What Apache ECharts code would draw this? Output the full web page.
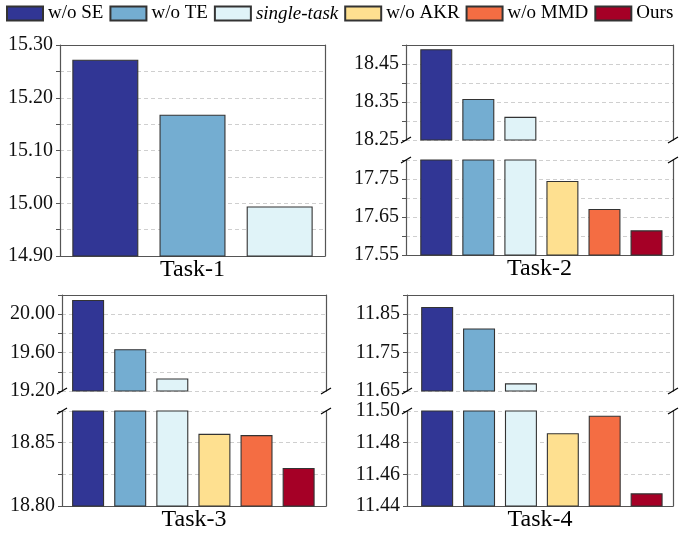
<!DOCTYPE html>
<html><head><meta charset="utf-8">
<script src="https://cdn.jsdelivr.net/npm/echarts@6/dist/echarts.min.js"></script>
<style>html,body{margin:0;padding:0;background:#fff}#c{width:680px;height:537px}</style>
</head><body><div id="c"></div>
<script>
// ---- data ----
const methods = ['w/o SE', 'w/o TE', 'single-task', 'w/o AKR', 'w/o MMD', 'Ours'];
const colors = ['#313695', '#74add1', '#e0f3f8', '#fee090', '#f46d43', '#a50026'];
const task1 = [15.272, 15.168, 14.994];
const task2 = [18.489, 18.358, 18.311, 17.745, 17.671, 17.615];
const task3 = [20.148, 19.635, 19.331, 18.857, 18.856, 18.830];
const task4 = [11.869, 11.813, 11.670, 11.486, 11.497, 11.448];
const t1Ticks = ['14.90', '15.00', '15.10', '15.20', '15.30'];
const t2Upper = ['18.25', '18.35', '18.45'];
const t2Lower = ['17.55', '17.65', '17.75'];
const t3Upper = ['19.20', '19.60', '20.00'];
const t3Lower = ['18.80', '18.85'];
const t4Upper = ['11.65', '11.75', '11.85'];
const t4Lower = ['11.44', '11.46', '11.48', '11.50'];

const FONT = 'Liberation Serif';
const SPINE = '#555';

const panels = [
  { name: 'Task-1', values: task1, left: 60, width: 265, xMin: -0.52, xMax: 2.52, barWidth: 66,
    parts: [{ top: 45, height: 211, min: 14.90, max: 15.30, interval: 0.05, labels: t1Ticks, role: 'full' }] },
  { name: 'Task-2', values: task2, left: 406, width: 267, xMin: -0.72, xMax: 5.63, barWidth: 32,
    parts: [{ top: 45, height: 95, min: 18.25, max: 18.50, interval: 0.05, labels: t2Upper, role: 'upper' },
            { top: 160, height: 95, min: 17.55, max: 17.80, interval: 0.05, labels: t2Lower, role: 'lower' }] },
  { name: 'Task-3', values: task3, left: 62, width: 264, xMin: -0.62, xMax: 5.65, barWidth: 32,
    parts: [{ top: 295, height: 96, min: 19.20, max: 20.20, interval: 0.2, labels: t3Upper, role: 'upper' },
            { top: 411, height: 95, min: 18.80, max: 18.875, interval: 0.025, labels: t3Lower, role: 'lower' }] },
  { name: 'Task-4', values: task4, left: 407, width: 266, xMin: -0.72, xMax: 5.63, barWidth: 32,
    parts: [{ top: 295, height: 96, min: 11.65, max: 11.90, interval: 0.05, labels: t4Upper, role: 'upper' },
            { top: 411, height: 95, min: 11.44, max: 11.50, interval: 0.02, labels: t4Lower, role: 'lower' }] }
];

const grid = [], xAxis = [], yAxis = [], series = [];
const breaks = [];
panels.forEach(p => {
  p.parts.forEach(part => {
    const g = grid.length;
    grid.push({ left: p.left, top: part.top, width: p.width, height: part.height, outerBoundsMode: 'none', containLabel: false });
    const xb = xAxis.length;
    xAxis.push({
      type: 'value', gridIndex: g, position: 'bottom', min: p.xMin, max: p.xMax,
      axisLine: { show: part.role !== 'upper', onZero: false, lineStyle: { color: SPINE, width: 1.2 } },
      axisTick: { show: false }, axisLabel: { show: false }, splitLine: { show: false },
      name: part.role !== 'upper' ? p.name : '', nameLocation: 'middle', nameGap: 2,
      nameTextStyle: { fontFamily: FONT, fontSize: 24, color: '#000', verticalAlign: 'top' }
    });
    xAxis.push({
      type: 'value', gridIndex: g, position: 'top', min: p.xMin, max: p.xMax,
      axisLine: { show: part.role !== 'lower', onZero: false, lineStyle: { color: SPINE, width: 1.2 } },
      axisTick: { show: false }, axisLabel: { show: false }, splitLine: { show: false }
    });
    const yl = yAxis.length;
    const labs = part.labels;
    yAxis.push({
      type: 'value', gridIndex: g, position: 'left', min: part.min, max: part.max, interval: part.interval,
      axisLine: { show: true, onZero: false, lineStyle: { color: SPINE, width: 1.2 } },
      axisTick: { show: true, inside: false, length: 4, lineStyle: { color: SPINE } },
      axisLabel: { fontFamily: FONT, fontSize: 20, color: '#111', margin: 7,
        formatter: v => { const s = (+v).toFixed(2); return labs.includes(s) ? s : ''; } },
      splitLine: { show: true, lineStyle: { type: [4, 3], color: '#cfcfcf', width: 1 } }
    });
    yAxis.push({
      type: 'value', gridIndex: g, position: 'right', min: part.min, max: part.max,
      axisLine: { show: true, onZero: false, lineStyle: { color: SPINE, width: 1.2 } },
      axisTick: { show: false }, axisLabel: { show: false }, splitLine: { show: false }
    });
    p.values.forEach((v, i) => {
      series.push({
        type: 'bar', name: methods[i], xAxisIndex: xb, yAxisIndex: yl,
        data: [[i, v]], barWidth: p.barWidth, barGap: '-100%', clip: true,
        itemStyle: { color: colors[i], borderColor: '#333', borderWidth: 1.1 },
        emphasis: { disabled: true }, animation: false
      });
    });
    if (part.role !== 'full') {
      breaks.push({ xAxisIndex: xb, yAxisIndex: yl, xs: [p.xMin, p.xMax], y: part.role === 'upper' ? part.min : part.max });
    }
  });
});

const chart = echarts.init(document.getElementById('c'), null, { renderer: 'canvas' });
chart.setOption({
  animation: false,
  backgroundColor: '#fff',
  legend: {
    data: methods, top: 4, left: 0, width: 680, padding: [0, 0, 0, 6], itemWidth: 36, itemHeight: 14, itemGap: 6,
    icon: 'rect',
    textStyle: { fontFamily: FONT, fontSize: 19, color: '#000', rich: { i: { fontFamily: FONT, fontSize: 19, fontStyle: 'italic', color: '#000' } } },
    formatter: n => n === 'single-task' ? '{i|single-task}' : n
  },
  grid, xAxis, yAxis, series
});

const graphic = [];
breaks.forEach(b => {
  b.xs.forEach(xv => {
    const pt = chart.convertToPixel({ xAxisIndex: b.xAxisIndex, yAxisIndex: b.yAxisIndex }, [xv, b.y]);
    graphic.push({ type: 'line', silent: true, z: 100,
      shape: { x1: pt[0] - 5, y1: pt[1] + 3, x2: pt[0] + 5, y2: pt[1] - 3 },
      style: { stroke: '#000', lineWidth: 1.2 } });
  });
});
chart.setOption({ graphic });
</script>
</body></html>
